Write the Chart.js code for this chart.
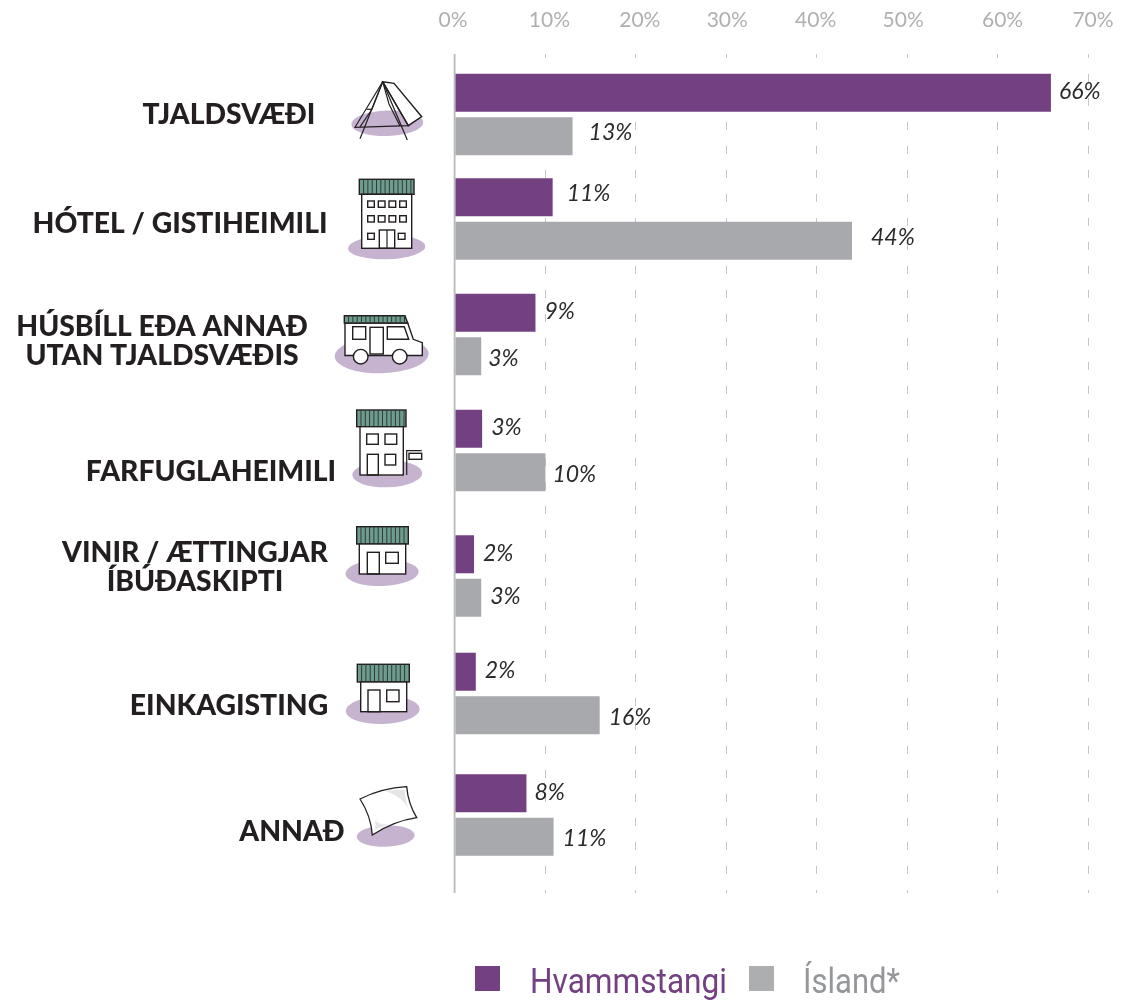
<!DOCTYPE html>
<html lang="is">
<head>
<meta charset="utf-8">
<title>Gisting</title>
<script src="https://cdn.jsdelivr.net/npm/chart.js@4/dist/chart.umd.js"></script>
<style>
html,body{margin:0;padding:0;background:#fff}
#wrap{width:1130px;height:1000px;position:relative}
</style>
</head>
<body>
<div id="wrap"><canvas id="c" width="1130" height="1000"></canvas></div>
<script>
// ---- data ----
const categories = [
  'TJALDSVÆÐI',
  'HÓTEL / GISTIHEIMILI',
  ['HÚSBÍLL EÐA ANNAÐ', 'UTAN TJALDSVÆÐIS'],
  'FARFUGLAHEIMILI',
  ['VINIR / ÆTTINGJAR', 'ÍBÚÐASKIPTI'],
  'EINKAGISTING',
  'ANNAÐ'
];
const hvammstangi = [65.9, 10.8, 8.9, 3.0, 2.1, 2.3, 7.9];
const island = [13.0, 43.9, 2.9, 10.0, 2.9, 16.0, 10.9];
const seriesNames = ['Hvammstangi', 'Ísland*'];
const xMax = 70;
const xStep = 10;

// ---- layout tweaks (not data) ----
const rowFractions = [.0721, .1967, .3343, .4726, .6222, .7622, .9070];
const catLabelX = [229, 180, 162, 211, 195, 229, 292];
const catLabelY = [115, 224, 341, 472, 567, 706, 832];
const tickNudgeX = [-2, 4, 4, 1, -1, -4, 5, 5];
const gapA = [8, 14, 9, 9, 9, 9, 8];
const gapB = [16, 19, 7, 7, 9, 9, 9];
const dyA = [-1, -4, -1, -1, -1, -1, -1];
const dyB = [-4, -3, 2, 2, -1, 2, 2];
const legendBoxX = [475, 749];
const legendTextX = [530, 803];
const legendTextW = [197, 97];

const PURPLE = '#734082', GREY = '#a7a9ac', AXIS = '#b9babc', GRIDC = '#c4c5c7';
const BLOB = '#c5b3d0', ROOF = '#6e9c8f', INK = '#231f20';

class RowScale extends Chart.CategoryScale {
  static id = 'rows';
  static defaults = Chart.CategoryScale.defaults;
  getPixelForValue(value) {
    if (typeof value !== 'number') value = this.parse(value);
    return value === null ? NaN : this.getPixelForDecimal(rowFractions[value]);
  }
  _computeLabelItems(area) {
    const items = super._computeLabelItems(area);
    items.forEach((it, i) => {
      it.options.translation = [catLabelX[i], catLabelY[i]];
      it.options.textAlign = 'center';
      it.options.textBaseline = 'middle';
    });
    return items;
  }
}
class NudgedLinear extends Chart.LinearScale {
  static id = 'nudgedLinear';
  static defaults = Chart.LinearScale.defaults;
  _computeLabelItems(area) {
    const items = super._computeLabelItems(area);
    items.forEach((it, i) => { it.options.translation[0] += tickNudgeX[i] || 0; });
    return items;
  }
}
Chart.register(RowScale, NudgedLinear);

// ---- icons ----
function blob(ctx, x, y, rx, ry) {
  ctx.fillStyle = BLOB;
  ctx.beginPath(); ctx.ellipse(x, y, rx, ry, -0.03, 0, Math.PI * 2); ctx.fill();
}
function box(ctx, x0, y0, x1, y1, fill, lw) {
  ctx.lineWidth = lw || 1.4; ctx.strokeStyle = INK;
  if (fill) { ctx.fillStyle = fill; ctx.fillRect(x0, y0, x1 - x0, y1 - y0); }
  ctx.strokeRect(x0, y0, x1 - x0, y1 - y0);
}
function roof(ctx, x0, y0, x1, y1, step) {
  box(ctx, x0, y0, x1, y1, ROOF, 1.4);
  ctx.lineWidth = 1; ctx.strokeStyle = '#2e3b38';
  ctx.beginPath();
  for (let x = x0 + step; x < x1 - 1; x += step) { ctx.moveTo(x, y0); ctx.lineTo(x, y1); }
  ctx.stroke();
}
function poly(ctx, pts, fill, lw) {
  ctx.beginPath();
  pts.forEach((p, i) => i ? ctx.lineTo(p[0], p[1]) : ctx.moveTo(p[0], p[1]));
  ctx.closePath();
  if (fill) { ctx.fillStyle = fill; ctx.fill(); }
  ctx.lineWidth = lw || 1.4; ctx.strokeStyle = INK; ctx.stroke();
}
function line(ctx, pts, lw) {
  ctx.beginPath();
  pts.forEach((p, i) => i ? ctx.lineTo(p[0], p[1]) : ctx.moveTo(p[0], p[1]));
  ctx.lineWidth = lw || 1.2; ctx.strokeStyle = INK; ctx.stroke();
}
function house(ctx, r, b) {
  roof(ctx, r[0], r[1], r[2], r[3], 4.3);
  box(ctx, b[0], b[1], b[2], b[3], '#fff');
}
function drawIcons(ctx) {
  // tent
  blob(ctx, 387.3, 123.3, 36, 12.7);
  poly(ctx, [[382.7,81.7],[394,83.3],[421.7,116.7],[408.3,125.7]], '#fff');
  line(ctx, [[382.7,81.7],[355,127.3],[408.3,125.7],[382.7,81.7]]);
  line(ctx, [[382.7,81.7],[360,138.7]]);
  line(ctx, [[382.7,81.7],[407.3,140]]);
  line(ctx, [[382.7,81.7],[372,109.3],[360,126.8]]);
  line(ctx, [[366.7,109.3],[372,109.3]]);
  line(ctx, [[382.7,81.7],[389,104],[400,125.9]]);
  // hotel
  blob(ctx, 386.7, 247.3, 38.7, 12);
  house(ctx, [359.3,179.3,414,194.3], [361.7,194.3,411.7,248.3]);
  [[201,207.3],[215.7,222]].forEach(r => {
    [[367.7,374.3],[378.3,385],[389,395.7],[399.7,406.3]].forEach(c => box(ctx, c[0], r[0], c[1], r[1], '#fff'));
  });
  box(ctx, 367.7, 233.3, 374.3, 239.3); box(ctx, 398.3, 233.3, 405, 239.3);
  box(ctx, 379.3, 230, 394.7, 248.3); line(ctx, [[387,230],[387,248.3]]);
  // van
  blob(ctx, 381.7, 355, 47, 18.3);
  poly(ctx, [[345,323],[407.7,323],[413.3,339.3],[422.3,342.7],[422.3,355.5],[345,355.5]], '#fff');
  poly(ctx, [[344.3,315.7],[405,315.7],[407.7,323],[344.3,323]], ROOF);
  ctx.lineWidth = 1; ctx.strokeStyle = '#2e3b38'; ctx.beginPath();
  for (let x = 348.6; x < 405; x += 4.3) { ctx.moveTo(x, 315.7); ctx.lineTo(x, 323); } ctx.stroke();
  box(ctx, 352.7, 326.7, 365.7, 339.3); box(ctx, 370, 327.3, 383.3, 354);
  poly(ctx, [[387.3,326.7],[404.3,326.7],[408.7,339.3],[387.3,339.3]]);
  [360.7, 399.7].forEach(x => {
    ctx.beginPath(); ctx.arc(x, 356.7, 7.3, 0, Math.PI * 2);
    ctx.fillStyle = '#fff'; ctx.fill(); ctx.lineWidth = 1.4; ctx.strokeStyle = INK; ctx.stroke();
  });
  // hostel
  blob(ctx, 387.3, 474, 35, 13.3);
  house(ctx, [356.7,410,406,426.7], [360,426.7,403.3,475]);
  box(ctx, 366.7, 434, 378.3, 444.3); box(ctx, 385, 434, 396.7, 444.3);
  box(ctx, 367.3, 454.3, 378.3, 475); box(ctx, 385, 454.3, 395.7, 465);
  line(ctx, [[406.7,475],[406.7,450.7],[421.7,450.7]]);
  box(ctx, 409, 453.3, 421.7, 459.3, '#fff');
  // friends
  blob(ctx, 382, 572.7, 36.7, 13.3);
  house(ctx, [356.7,526.7,408.3,544], [359.3,544,405.7,574]);
  box(ctx, 367.3, 552.3, 379.3, 574); box(ctx, 385.7, 552.3, 398.3, 563.3);
  // private
  blob(ctx, 382.7, 710, 37, 14);
  house(ctx, [357.3,664.3,409.3,682], [360.7,682,406.7,711.7]);
  box(ctx, 368, 690, 380, 711.7); box(ctx, 386.7, 690, 399, 701.7);
  // pillow
  blob(ctx, 385.7, 836, 29, 10.7);
  ctx.beginPath();
  ctx.moveTo(360, 799);
  ctx.quadraticCurveTo(382, 788, 406.7, 786.7);
  ctx.quadraticCurveTo(408, 803, 416.7, 817.7);
  ctx.quadraticCurveTo(394, 821, 372.3, 835);
  ctx.quadraticCurveTo(371, 816, 360, 799);
  ctx.closePath();
  ctx.fillStyle = '#fff'; ctx.fill();
  ctx.lineWidth = 1.3; ctx.strokeStyle = INK; ctx.stroke();
  ctx.fillStyle = '#e4e5e6';
  ctx.beginPath(); ctx.moveTo(385, 791); ctx.quadraticCurveTo(400, 789, 405, 790);
  ctx.quadraticCurveTo(405, 803, 410, 812); ctx.quadraticCurveTo(403, 796, 385, 791); ctx.fill();
  ctx.beginPath(); ctx.moveTo(375, 830); ctx.quadraticCurveTo(376, 825, 375, 820);
  ctx.quadraticCurveTo(380, 826, 391, 824); ctx.quadraticCurveTo(381, 827, 375, 830); ctx.fill();
}

const artPlugin = {
  id: 'art',
  beforeDatasetsDraw(chart) {
    const ctx = chart.ctx, a = chart.chartArea;
    ctx.save();
    ctx.fillStyle = AXIS;
    ctx.fillRect(a.left - 1.3, a.top, 1.8, a.bottom - a.top);
    drawIcons(ctx);
    ctx.restore();
  },
  afterDatasetsDraw(chart) {
    const ctx = chart.ctx;
    ctx.save();
    ctx.font = 'italic 23px Lato';
    ctx.fillStyle = '#2b2b2b';
    ctx.textBaseline = 'middle';
    ctx.textAlign = 'left';
    chart.data.datasets.forEach((ds, d) => {
      const meta = chart.getDatasetMeta(d);
      meta.data.forEach((el, i) => {
        const gap = (d ? gapB : gapA)[i], dy = (d ? dyB : dyA)[i];
        ctx.fillText(Math.round(ds.data[i]) + '%', el.x + gap, el.y + dy);
      });
    });
    ctx.restore();
  },
  afterDraw(chart) {
    const ctx = chart.ctx;
    const cols = [PURPLE, '#949699'];
    const boxes = [PURPLE, '#adaeb0'];
    chart.data.datasets.forEach((ds, i) => {
      ctx.save();
      ctx.fillStyle = boxes[i];
      ctx.fillRect(legendBoxX[i], 966, 25, 25);
      ctx.font = '35px Roboto';
      const w = ctx.measureText(ds.label).width;
      ctx.translate(legendTextX[i], 993);
      ctx.scale(legendTextW[i] / w, 1);
      ctx.fillStyle = cols[i];
      ctx.textBaseline = 'alphabetic';
      ctx.fillText(ds.label, 0, 0);
      ctx.restore();
    });
  }
};

new Chart(document.getElementById('c'), {
  type: 'bar',
  data: {
    labels: categories,
    datasets: [
      { label: seriesNames[0], data: hvammstangi, backgroundColor: PURPLE },
      { label: seriesNames[1], data: island, backgroundColor: GREY }
    ]
  },
  plugins: [artPlugin],
  options: {
    indexAxis: 'y',
    responsive: false,
    animation: false,
    categoryPercentage: 0.8325,
    barPercentage: 0.8736,
    layout: { padding: { left: 0, right: 42, top: 0, bottom: 107 } },
    scales: {
      x: {
        type: 'nudgedLinear',
        position: 'top',
        min: 0, max: xMax,
        afterFit(s) { s.height = 54; },
        ticks: {
          stepSize: xStep, autoSkip: false, maxRotation: 0, padding: 21,
          color: '#aeb0b2',
          font: { family: 'Lato', size: 21, weight: 400 },
          callback: v => v + '%'
        },
        grid: {
          drawTicks: false,
          lineWidth: 1,
          color: c => c.tick && c.tick.value === 0 ? 'rgba(0,0,0,0)' : GRIDC
        },
        border: { display: false, dash: [8, 16], dashOffset: 4 }
      },
      y: {
        type: 'rows',
        afterFit(s) { s.width = 455; },
        grid: { display: false },
        border: { display: false },
        ticks: {
          autoSkip: false,
          color: '#231f20',
          font: { family: 'Lato', size: 28.3, weight: 900, lineHeight: 1.03 }
        }
      }
    },
    plugins: {
      tooltip: { enabled: false },
      legend: { display: false }
    }
  }
});
</script>
</body>
</html>
